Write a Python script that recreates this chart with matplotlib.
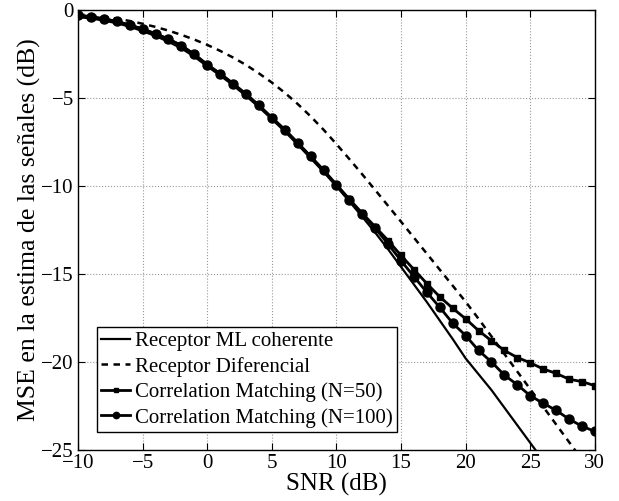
import numpy as np
import matplotlib
matplotlib.use("Agg")
import matplotlib.pyplot as plt

plt.rcParams['font.family'] = ['Liberation Serif', 'DejaVu Serif']
plt.rcParams['mathtext.fontset'] = 'stix'

# SNR en dB (un punto por dB)
snr = list(range(-10, 31))

# Receptor ML coherente
mse_ml = [-0.40, -0.48, -0.60, -0.75, -0.95, -1.20, -1.48, -1.80, -2.18, -2.65,
          -3.20, -3.72, -4.28, -4.88, -5.52, -6.20, -6.90, -7.65, -8.42, -9.20,
          -10.02, -10.88, -11.75, -12.65, -13.60, -14.60, -15.60, -16.60, -17.65, -18.70,
          -19.80, -20.70, -21.60, -22.60, -23.60, -24.60, -25.60, -26.60, -27.60, -28.60,
          -29.60]

# Receptor diferencial
mse_dif = [-0.25, -0.31, -0.39, -0.49, -0.62, -0.78, -0.96, -1.17, -1.41, -1.68,
           -1.98, -2.32, -2.70, -3.12, -3.60, -4.12, -4.70, -5.34, -6.04, -6.80,
           -7.62, -8.47, -9.34, -10.23, -11.13, -12.03, -12.94, -13.85, -14.76, -15.67,
           -16.58, -17.55, -18.55, -19.55, -20.55, -21.55, -22.55, -23.55, -24.55, -25.55,
           -26.55]

# Correlation Matching N=50
mse_cm50 = [-0.30, -0.38, -0.50, -0.65, -0.85, -1.08, -1.35, -1.65, -2.02, -2.52,
            -3.10, -3.62, -4.18, -4.78, -5.42, -6.12, -6.80, -7.55, -8.32, -9.10,
            -9.92, -10.75, -11.55, -12.32, -13.10, -13.95, -14.75, -15.55, -16.30, -16.95,
            -17.55, -18.22, -18.80, -19.35, -19.75, -20.05, -20.40, -20.65, -20.98, -21.12,
            -21.35]

# Correlation Matching N=100
mse_cm100 = [-0.30, -0.38, -0.50, -0.65, -0.85, -1.08, -1.35, -1.65, -2.02, -2.52,
             -3.10, -3.62, -4.18, -4.78, -5.42, -6.12, -6.80, -7.55, -8.32, -9.10,
             -9.95, -10.80, -11.60, -12.40, -13.30, -14.25, -15.15, -16.05, -16.90, -17.80,
             -18.50, -19.35, -20.00, -20.75, -21.30, -21.92, -22.35, -22.75, -23.25, -23.65,
             -23.95]

fig = plt.figure(figsize=(6.19, 5.01), dpi=100)
ax = fig.add_axes([0.126, 0.102, 0.835, 0.878])

ax.plot(snr, mse_ml, '-', color='black', lw=1.6, label='Receptor ML coherente')
ax.plot(snr, mse_dif, '--', color='black', lw=1.8, dashes=(2.6, 2.2), label='Receptor Diferencial')
ax.plot(snr, mse_cm50, '-s', color='black', lw=2.0, ms=5, label='Correlation Matching (N=50)')
ax.plot(snr, mse_cm100, '-o', color='black', lw=2.0, ms=6.5, label='Correlation Matching (N=100)')

ax.set_xlim(-10, 30)
ax.set_ylim(-25, 0)
ax.set_xticks(range(-10, 31, 5))
ax.set_yticks(range(-25, 1, 5))
ax.grid(True, linestyle=':', color='#999999', lw=0.8)
ax.tick_params(direction='in', top=True, right=True, labelsize=15, length=5)
ax.tick_params(axis='x', pad=3)
ax.tick_params(axis='y', pad=3)
for s in ax.spines.values():
    s.set_linewidth(1.0)

ax.set_xlabel('SNR (dB)', fontsize=18, labelpad=0)
ax.set_ylabel('MSE en la estima de las señales (dB)', fontsize=18.5, labelpad=0)

leg = ax.legend(loc='lower left', fontsize=15, frameon=True, fancybox=False,
                edgecolor='black', framealpha=1, handlelength=1.4,
                borderpad=0.2, labelspacing=0.28, handletextpad=0.2,
                markerscale=0.7, bbox_to_anchor=(0.037, 0.041), borderaxespad=0)
leg.get_frame().set_linewidth(1.0)

fig.savefig('out.png', dpi=100)
